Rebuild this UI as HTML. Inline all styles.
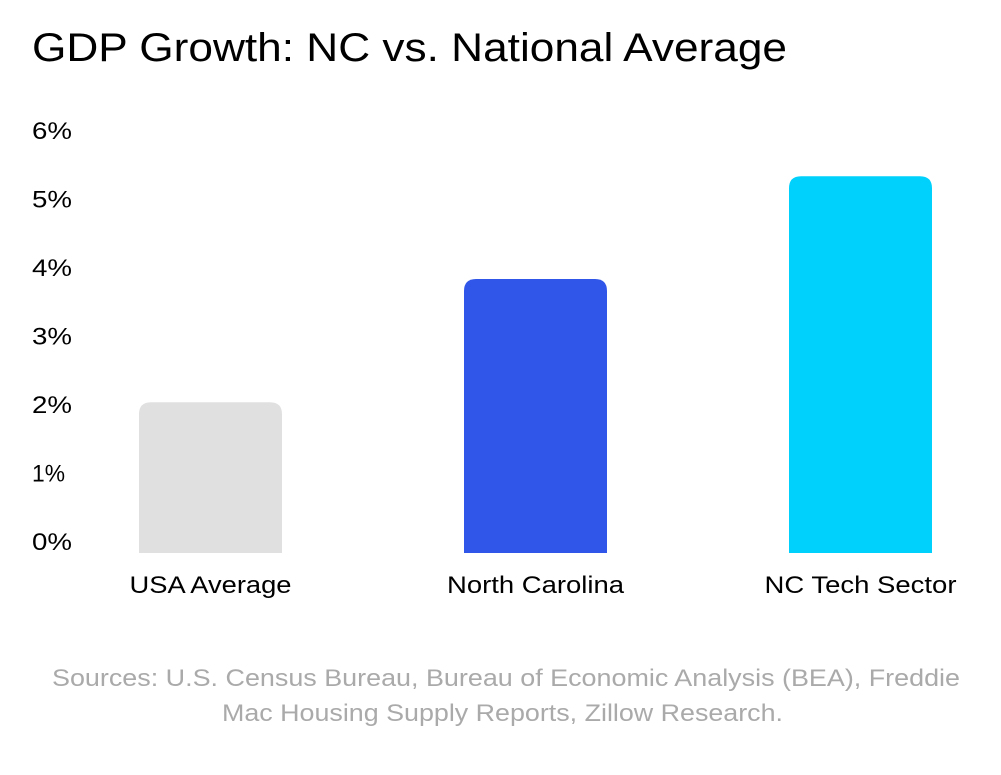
<!DOCTYPE html>
<html><head><meta charset="utf-8"><style>
body{margin:0;background:#fff;width:1001px;height:770px;overflow:hidden;font-family:"Liberation Sans",sans-serif}
</style></head><body>
<svg width="1001" height="770">
<text x="32" y="61" font-size="40" fill="#000" textLength="755" lengthAdjust="spacingAndGlyphs">GDP Growth: NC vs. National Average</text>
<g id="yaxis"></g>
<g id="bars"></g>
<g id="xaxis"></g>
<text x="52" y="686" font-size="24" fill="#aaa" textLength="908" lengthAdjust="spacingAndGlyphs">Sources: U.S. Census Bureau, Bureau of Economic Analysis (BEA), Freddie</text>
<text x="222" y="721" font-size="24" fill="#aaa" textLength="561" lengthAdjust="spacingAndGlyphs">Mac Housing Supply Reports, Zillow Research.</text>
</svg>
<script>
const categories=["USA Average","North Carolina","NC Tech Sector"];
const values=[2.2,4.0,5.5];
const colors=["#e0e0e0","#3055e9","#00d0fc"];
const ticks=[0,1,2,3,4,5,6];
const tickLabels=["0%","1%","2%","3%","4%","5%","6%"];
const labelWidths=[162,177,192];
const NS="http://www.w3.org/2000/svg";
const y0=553,k=68.5;
function y(v){return y0-v*k;}
function x(i){return 139+i*325;}
const bw=143;
const ya=document.getElementById('yaxis');
ticks.forEach((t,i)=>{const e=document.createElementNS(NS,'text');
e.setAttribute('x',32);e.setAttribute('y',y(t)-3);e.setAttribute('font-size','24');e.textContent=tickLabels[i];
e.setAttribute('textLength',t===1?33:40);e.setAttribute('lengthAdjust','spacingAndGlyphs');


ya.appendChild(e);});
const bg=document.getElementById('bars'),xa=document.getElementById('xaxis');
values.forEach((v,i)=>{const r=12,x0=x(i),yt=y(v);
const p=document.createElementNS(NS,'path');
p.setAttribute('d',`M${x0},${y0}V${yt+r}Q${x0},${yt} ${x0+r},${yt}H${x0+bw-r}Q${x0+bw},${yt} ${x0+bw},${yt+r}V${y0}Z`);
p.setAttribute('fill',colors[i]);


bg.appendChild(p);
const t=document.createElementNS(NS,'text');
t.setAttribute('x',x0+bw/2);t.setAttribute('y',593);t.setAttribute('font-size','24');t.setAttribute('text-anchor','middle');t.textContent=categories[i];
t.setAttribute('textLength',labelWidths[i]);t.setAttribute('lengthAdjust','spacingAndGlyphs');


xa.appendChild(t);});
</script>
</body></html>
